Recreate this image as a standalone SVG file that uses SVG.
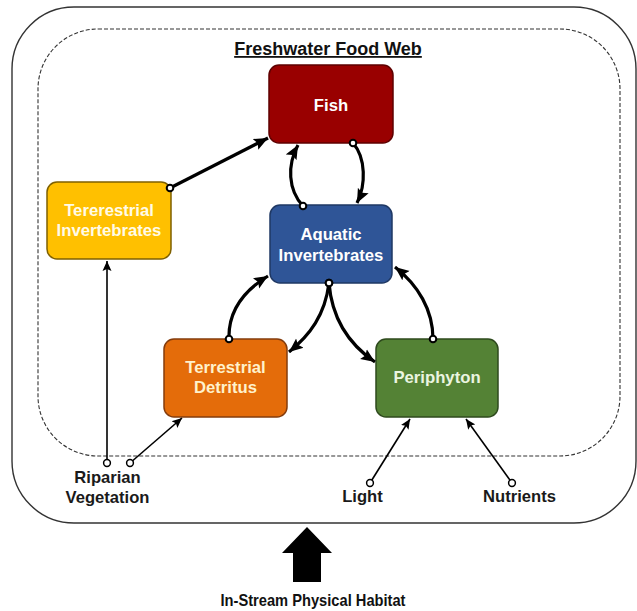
<svg xmlns="http://www.w3.org/2000/svg" width="637" height="611" viewBox="0 0 637 611">
  <defs>
    <style>
      .node rect { stroke-width: 1.5; }
      .ntext { font-family: "Liberation Sans", Arial, sans-serif; font-weight: bold; font-size: 16.7px; text-anchor: middle; }
      .label { font-family: "Liberation Sans", Arial, sans-serif; font-weight: bold; font-size: 16.6px; text-anchor: middle; fill: #1a1a1a; }
      .thick { fill: none; stroke: #000; stroke-width: 3.2; marker-start: url(#dotBig); marker-end: url(#arrBig); }
      .thin { fill: none; stroke: #000; stroke-width: 1.6; marker-start: url(#dotSmall); marker-end: url(#arrSmall); }
    </style>
    <marker id="arrBig" markerUnits="userSpaceOnUse" markerWidth="15" markerHeight="13" refX="14" refY="6.5" orient="auto" viewBox="0 0 15 13">
      <path d="M0,0.5 L14,6.5 L0,12.5 L2.5,6.5 z" fill="#000"/>
    </marker>
    <marker id="arrSmall" markerUnits="userSpaceOnUse" markerWidth="11" markerHeight="10" refX="10" refY="5" orient="auto" viewBox="0 0 11 10">
      <path d="M0,0.5 L10,5 L0,9.5 L2,5 z" fill="#000"/>
    </marker>
    <marker id="dotBig" markerUnits="userSpaceOnUse" markerWidth="10" markerHeight="10" refX="5" refY="5" viewBox="0 0 10 10">
      <circle cx="5" cy="5" r="3.3" fill="#fff" stroke="#000" stroke-width="2"/>
    </marker>
    <marker id="dotSmall" markerUnits="userSpaceOnUse" markerWidth="10" markerHeight="10" refX="5" refY="5" viewBox="0 0 10 10">
      <circle cx="5" cy="5" r="3.4" fill="#fff" stroke="#000" stroke-width="1.5"/>
    </marker>
  </defs>

  <rect width="637" height="611" fill="#fff"/>

  <g id="boundaries">
    <rect x="12" y="7" width="624" height="516" rx="62" ry="62" fill="none" stroke="#333" stroke-width="1.4"/>
    <rect x="38" y="29" width="582" height="427" rx="60" ry="60" fill="none" stroke="#333" stroke-width="1.1" stroke-dasharray="4 2"/>
  </g>

  <text id="title" x="328" y="55" font-family="Liberation Sans, Arial, sans-serif" font-weight="bold" font-size="18" text-anchor="middle" text-decoration="underline" fill="#111">Freshwater Food Web</text>

  <g id="fish" class="node">
    <rect x="269" y="65" width="124" height="78" rx="10" fill="#990000" stroke="#5e0000"/>
    <text class="ntext" x="331" y="111" fill="#fff">Fish</text>
  </g>

  <g id="terrestrial-invertebrates" class="node">
    <rect x="47" y="182" width="124" height="77" rx="10" fill="#ffc000" stroke="#7f6000"/>
    <text class="ntext" x="109" y="216" fill="#fffbe8">Tererestrial</text>
    <text class="ntext" x="109" y="236" fill="#fffbe8">Invertebrates</text>
  </g>

  <g id="aquatic-invertebrates" class="node">
    <rect x="270" y="205" width="122" height="78" rx="10" fill="#2f5597" stroke="#1f3864"/>
    <text class="ntext" x="331" y="240" fill="#fff">Aquatic</text>
    <text class="ntext" x="331" y="261" fill="#fff">Invertebrates</text>
  </g>

  <g id="terrestrial-detritus" class="node">
    <rect x="164" y="339" width="123" height="78" rx="10" fill="#e46c0a" stroke="#843c0c"/>
    <text class="ntext" x="225.5" y="373" fill="#fff2cc">Terrestrial</text>
    <text class="ntext" x="225.5" y="393" fill="#fff2cc">Detritus</text>
  </g>

  <g id="periphyton" class="node">
    <rect x="376" y="339" width="122" height="78" rx="10" fill="#548235" stroke="#2e4a1d"/>
    <text class="ntext" x="437" y="383" fill="#ebf5e0">Periphyton</text>
  </g>

  <g id="riparian-vegetation">
    <text class="label" x="107.5" y="483">Riparian</text>
    <text class="label" x="107.5" y="503">Vegetation</text>
  </g>
  <g id="light">
    <text class="label" x="362.5" y="502">Light</text>
  </g>
  <g id="nutrients">
    <text class="label" x="519.5" y="502">Nutrients</text>
  </g>

  <g id="connectors">
    <path class="thick" d="M170,188 L268,138"/>
    <path class="thick" d="M303,206 C288,190 287,165 298,145"/>
    <path class="thick" d="M353,143 C366,158 366,185 357,203"/>
    <path class="thick" d="M229,339 C228,310 245,290 268,276"/>
    <path class="thick" d="M329,283 C325,315 310,335 289,352"/>
    <path class="thick" d="M329,283 C332,320 350,345 375,362"/>
    <path class="thick" d="M433,339 C433,310 418,285 395,267"/>
    <path class="thin" d="M107,463 L107,261"/>
    <path class="thin" d="M130,463 L182,418"/>
    <path class="thin" d="M370,483 L410,419"/>
    <path class="thin" d="M512,483 L466,419"/>
  </g>

  <g id="in-stream-physical-habitat">
    <polygon points="307,527 332,553 321,553 321,582 293,582 293,553 282,553" fill="#000"/>
    <text x="313" y="606" font-family="Liberation Sans, Arial, sans-serif" font-weight="bold" font-size="16.5" text-anchor="middle" textLength="185" lengthAdjust="spacingAndGlyphs" fill="#111">In-Stream Physical Habitat</text>
  </g>
</svg>
